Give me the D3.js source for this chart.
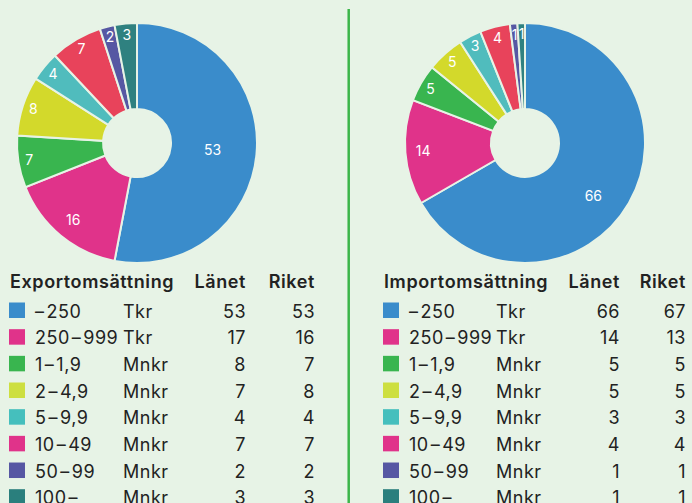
<!DOCTYPE html>
<html>
<head>
<meta charset="utf-8">
<script src="https://cdn.jsdelivr.net/npm/d3@7"></script>
<style>
  html, body { margin: 0; padding: 0; background: #e7f3e6; }
  svg { display: block; }
</style>
</head>
<body>
<svg width="692" height="503"></svg>
<script>
// size classes and their units
const sizeClasses = ["–250", "250–999", "1–1,9", "2–4,9", "5–9,9", "10–49", "50–99", "100–"];
const units = ["Tkr", "Tkr", "Mnkr", "Mnkr", "Mnkr", "Mnkr", "Mnkr", "Mnkr"];

// percent of companies per class
const exportLanet = [53, 17, 8, 7, 4, 7, 2, 3];
const exportRiket = [53, 16, 7, 8, 4, 7, 2, 3];
const importLanet = [66, 14, 5, 5, 3, 4, 1, 1];
const importRiket = [67, 13, 5, 5, 3, 4, 1, 1];

const pieColors = ["#3a8ccb", "#e0338a", "#39b54f", "#d3d92b", "#50bcbd", "#e8435b", "#5657a3", "#2f8180"];
const legendColors = ["#3a8ccb", "#e0338a", "#39b54f", "#cddf40", "#45bfbd", "#e0338a", "#5657a3", "#2a7f7d"];

const bg = "#e7f3e6";
const font = "Inter, 'Noto Sans', sans-serif";

const svg = d3.select("svg");

// divider
svg.append("line")
  .attr("x1", 348.7).attr("x2", 348.7)
  .attr("y1", 9).attr("y2", 503)
  .attr("stroke", "#3cb54a")
  .attr("stroke-width", 2.5);

const pie = d3.pie().sort(null).value(d => d);
const arc = d3.arc().innerRadius(34).outerRadius(120);

// small slices get labels near the rim, big ones further in
const labelRadius = d3.scaleLinear()
  .domain([0.08, 0.16, 0.53, 0.67])
  .range([109, 100, 76, 87])
  .clamp(true);

function drawDonut(values, cx, cy) {
  const g = svg.append("g").attr("transform", `translate(${cx},${cy})`);
  const slices = pie(values);

  g.selectAll("path")
    .data(slices)
    .join("path")
    .attr("d", arc)
    .attr("fill", (d, i) => pieColors[i])
    .attr("stroke", bg)
    .attr("stroke-width", 2);

  g.selectAll("text")
    .data(slices)
    .join("text")
    .attr("transform", d => {
      const frac = (d.endAngle - d.startAngle) / (2 * Math.PI);
      const r = labelRadius(frac);
      // the big slices sit a bit past their middle angle
      const a = (d.startAngle + d.endAngle) / 2 + (frac > 0.6 ? 0.14 : 0);
      return `translate(${r * Math.sin(a)},${-r * Math.cos(a)})`;
    })
    .attr("text-anchor", "middle")
    .attr("dy", "0.36em")
    .attr("fill", "#fff")
    .attr("font-family", font)
    .attr("font-size", "14px")
    .text(d => d.data);
}

drawDonut(exportRiket, 137, 143);
drawDonut(importLanet, 525, 143);

function drawTable(title, lanet, riket, x0, cols) {
  const g = svg.append("g")
    .attr("font-family", font)
    .attr("font-size", "18px")
    .attr("letter-spacing", "0.5px")
    .attr("fill", "#222");
  const headerY = 287.5;
  const rowY = i => 317.5 + i * 26.67;

  const head = g.append("g").attr("font-weight", 600).attr("letter-spacing", "0.6px");
  head.append("text").attr("x", x0 + 1).attr("y", headerY).text(title);
  head.append("text").attr("x", cols.lanet).attr("y", headerY)
    .attr("text-anchor", "end").text("Länet");
  head.append("text").attr("x", cols.riket).attr("y", headerY)
    .attr("text-anchor", "end").text("Riket");

  sizeClasses.forEach((c, i) => {
    const y = rowY(i);
    g.append("rect")
      .attr("x", x0).attr("y", y - 15)
      .attr("width", 16).attr("height", 15.5)
      .attr("fill", legendColors[i]);
    // the dash gets a little air on both sides, like the original typeface
    const t = g.append("text").attr("x", x0 + 26).attr("y", y);
    const parts = c.split("–");
    if (parts[0]) t.append("tspan").text(parts[0]);
    t.append("tspan").attr("dx", parts[0] ? 2 : 0).text("–");
    if (parts[1]) t.append("tspan").attr("dx", 2).text(parts[1]);
    g.append("text").attr("x", cols.unit).attr("y", y).text(units[i]);
    g.append("text").attr("x", cols.lanet).attr("y", y).attr("text-anchor", "end").text(lanet[i]);
    g.append("text").attr("x", cols.riket).attr("y", y).attr("text-anchor", "end").text(riket[i]);
  });
}

drawTable("Exportomsättning", exportLanet, exportRiket, 9, { unit: 123, lanet: 246, riket: 315 });
drawTable("Importomsättning", importLanet, importRiket, 383, { unit: 496, lanet: 620, riket: 686 });
</script>
</body>
</html>
